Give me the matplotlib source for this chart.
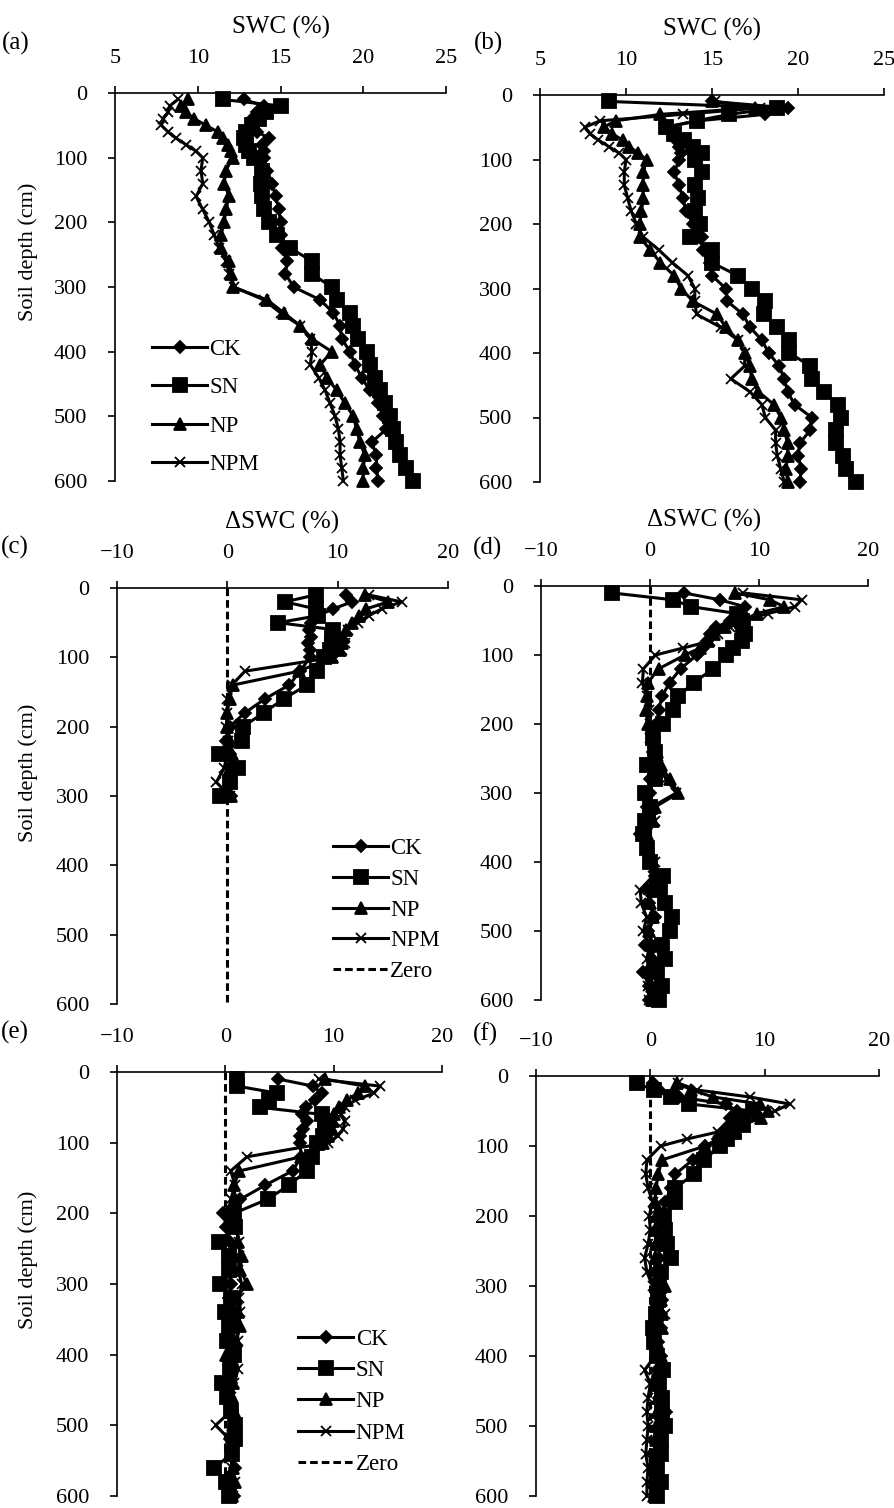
import matplotlib
matplotlib.use("Agg")
import matplotlib.pyplot as plt

plt.rcParams['font.family'] = ['Liberation Serif', 'DejaVu Serif']
plt.rcParams['font.size'] = 16

# soil depths (cm)
depth = [10, 20, 30, 40, 50, 60, 70, 80, 90, 100,
         120, 140, 160, 180, 200, 220, 240, 260, 280, 300,
         320, 340, 360, 380, 400, 420, 440, 460, 480, 500,
         520, 540, 560, 580, 600]
depth_c = depth[:20]

# (a) SWC
a_ck = [12.8, 14.0, 13.6, 13.3, 13.4, 13.6, 14.3, 13.9, 14.0, 14.0,
        14.2, 14.5, 14.7, 14.9, 15.0, 15.0, 15.1, 15.4, 15.3, 15.8,
        17.4, 18.2, 18.6, 18.7, 19.2, 19.5, 19.9, 20.4, 20.9, 21.2,
        21.4, 20.5, 20.8, 20.8, 20.9]
a_sn = [11.5, 15.0, 14.1, 13.7, 13.3, 12.9, 12.8, 12.9, 13.1, 13.4,
        13.9, 13.8, 13.9, 14.0, 14.3, 14.8, 15.6, 16.9, 16.9, 18.1,
        18.4, 19.2, 19.4, 19.7, 20.2, 20.4, 20.7, 21.0, 21.3, 21.6,
        21.8, 22.0, 22.2, 22.6, 23.0]
a_np = [9.4, 9.0, 9.3, 9.8, 10.5, 11.2, 11.5, 11.8, 12.0, 12.1,
        11.7, 11.6, 11.9, 11.7, 11.6, 11.4, 11.4, 11.9, 12.0, 12.1,
        14.2, 15.2, 16.2, 16.9, 18.1, 17.4, 17.8, 18.4, 18.9, 19.4,
        19.6, 19.8, 20.1, 20.0, 20.0]
a_npm = [8.8, 8.3, 8.2, 7.9, 7.8, 8.2, 8.7, 9.3, 9.9, 10.3,
         10.2, 10.3, 9.9, 10.3, 10.7, 11.0, 11.3, 11.7, 11.9, 12.2,
         14.0, 15.0, 16.2, 16.8, 16.9, 16.8, 17.3, 17.7, 18.0, 18.3,
         18.5, 18.6, 18.6, 18.7, 18.8]

# (b) SWC
b_ck = [15.0, 19.4, 18.1, 14.2, 12.3, 12.7, 12.9, 13.1, 13.2, 13.1,
        12.8, 13.1, 13.3, 13.5, 13.9, 14.4, 14.5, 14.9, 15.0, 15.8,
        15.9, 16.8, 17.2, 17.9, 18.3, 18.9, 19.2, 19.4, 19.8, 20.8,
        20.7, 20.1, 20.0, 20.2, 20.1]
b_sn = [9.0, 18.8, 16.0, 14.1, 12.3, 12.8, 13.4, 13.9, 14.4, 14.0,
        14.4, 14.0, 14.2, 14.0, 14.3, 13.7, 15.0, 15.0, 16.5, 17.3,
        18.1, 18.0, 18.8, 19.5, 19.5, 20.7, 20.8, 21.5, 22.3, 22.5,
        22.2, 22.2, 22.6, 22.8, 23.4]
b_np = [15.0, 17.5, 12.0, 9.4, 8.7, 9.2, 9.8, 10.2, 10.7, 11.2,
        11.0, 11.0, 11.0, 10.9, 10.8, 10.8, 11.4, 12.0, 12.8, 13.2,
        13.9, 15.3, 15.8, 16.5, 16.9, 17.2, 17.3, 17.7, 18.6, 19.0,
        19.2, 19.4, 19.4, 19.3, 19.4]
b_npm = [15.2, 17.8, 13.3, 8.5, 7.6, 7.9, 8.4, 9.0, 9.6, 10.0,
         9.9, 9.9, 10.1, 10.3, 10.6, 11.0, 11.9, 12.7, 13.6, 14.0,
         14.0, 14.1, 15.5, 16.5, 16.9, 16.9, 16.1, 17.2, 17.9, 18.1,
         18.7, 18.7, 18.8, 19.0, 19.2]

# (c) delta SWC, 10-300 cm
c_ck = [10.8, 11.3, 9.6, 8.2, 7.6, 7.4, 7.6, 7.3, 7.5, 7.5,
        6.6, 5.6, 3.4, 1.6, 0.2, -0.1, 0.2, 0.4, 0.3, 0.3]
c_sn = [8.0, 5.2, 8.0, 8.2, 4.6, 9.6, 9.5, 9.5, 9.3, 8.8,
        8.1, 7.2, 5.1, 3.3, 1.4, 1.3, -0.8, 1.0, 0.2, -0.7]
c_np = [12.5, 14.6, 12.6, 11.9, 11.3, 10.8, 10.5, 10.4, 10.2, 9.5,
        6.5, 0.5, 0.2, 0.0, 0.0, 0.2, 0.4, 0.2, 0.3, 0.3]
c_npm = [12.8, 15.8, 14.0, 12.8, 11.8, 10.9, 10.7, 10.7, 10.4, 9.6,
         1.6, 0.4, 0.0, 0.0, -0.1, 0.1, 0.0, -0.3, -1.0, 0.2]

# (d) delta SWC
d_ck = [3.1, 6.4, 8.7, 8.4, 7.3, 6.1, 5.5, 5.2, 4.9, 4.3,
        2.8, 1.8, 1.1, 0.8, 0.6, 0.4, 0.3, 0.2, 0.0, 0.0,
        -0.3, -0.4, -0.9, -0.3, 0.0, 0.5, -0.2, -0.1, 0.5, -0.2,
        -0.5, 0.2, -0.6, -0.1, -0.1]
d_sn = [-3.5, 2.1, 3.8, 8.0, 8.4, 8.5, 8.7, 8.4, 7.6, 7.0,
        5.8, 4.0, 2.6, 2.1, 1.2, 0.3, 0.5, -0.3, 0.5, -0.45,
        0.0, -0.45, -0.6, -0.3, 0.0, 1.2, 0.9, 1.4, 2.0, 1.8,
        1.1, 1.4, 0.6, 1.1, 0.8]
d_np = [7.8, 11.0, 12.3, 9.8, 8.5, 6.9, 5.9, 5.3, 4.6, 3.2,
        0.8, -0.2, -0.3, -0.4, -0.2, 0.2, 0.6, 1.0, 1.8, 2.6,
        0.5, 0.3, -0.3, -0.2, 0.2, 0.6, 0.2, 0.0, 0.3, -0.1,
        0.2, 0.3, 0.0, 0.2, 0.2]
d_npm = [8.5, 13.9, 13.3, 10.8, 8.6, 7.3, 6.2, 5.5, 3.0, 0.5,
         -0.6, -0.7, -0.3, -0.1, 0.0, 0.0, 0.4, 0.7, 1.5, 2.4,
         0.2, 0.5, -0.3, -0.1, 0.5, 0.3, -0.9, -0.8, -0.3, -0.6,
         0.0, -0.3, 0.0, -0.2, -0.1]

# (e) delta SWC
e_ck = [4.9, 8.1, 8.9, 8.3, 7.4, 7.1, 7.5, 7.2, 6.9, 6.9,
        7.0, 6.2, 3.7, 1.4, -0.2, 0.1, 0.4, 0.5, 0.3, 0.5,
        0.3, 0.8, 0.5, 0.3, 0.6, 0.4, 0.5, 0.3, 0.6, 0.8,
        0.4, 0.6, 0.9, 0.5, 0.8]
e_sn = [1.1, 1.1, 4.8, 4.0, 3.2, 8.9, 9.2, 9.2, 9.0, 8.5,
        8.0, 7.5, 5.9, 3.9, 0.8, 0.9, -0.6, 0.3, 0.3, -0.5,
        0.5, 0.0, 0.3, 0.2, 0.8, 0.4, -0.3, 0.2, 0.5, 0.9,
        0.9, 0.6, -1.0, 0.1, 0.3]
e_np = [9.2, 12.9, 12.2, 11.2, 10.5, 10.0, 9.9, 9.8, 9.5, 9.0,
        7.0, 1.3, 0.8, 0.9, 0.7, 1.0, 1.2, 1.5, 1.4, 2.0,
        1.0, 1.2, 1.4, 1.0, 0.1, 0.5, 0.7, 0.6, 0.8, 0.7,
        0.8, 0.6, 0.7, 0.9, 0.6]
e_npm = [8.6, 14.3, 13.7, 12.0, 11.0, 10.7, 11.0, 10.9, 10.4, 9.5,
         2.0, 0.5, 0.9, 0.5, 0.3, 1.0, 1.3, 1.3, 1.2, 1.5,
         1.3, 1.4, 1.0, 1.2, 0.8, 1.2, 0.8, 0.5, 0.5, -0.9,
         0.4, 0.5, 0.6, 0.9, 0.7]

# (f) delta SWC
f_ck = [0.2, 0.8, 2.5, 6.6, 7.6, 7.0, 6.9, 6.3, 5.9, 4.8,
        3.7, 2.2, 1.8, 1.3, 0.9, 0.8, 0.7, 0.8, 0.4, 0.8,
        1.0, 0.9, 0.9, 0.7, 0.9, 0.6, 0.7, 0.8, 1.4, 0.8,
        0.5, 0.3, 0.4, 0.3, 0.5]
f_sn = [-1.2, 0.3, 1.8, 3.4, 9.0, 7.9, 8.1, 7.3, 6.7, 6.1,
        4.7, 3.8, 2.2, 2.2, 1.2, 1.3, 1.45, 1.8, 0.9, 0.8,
        0.7, 0.5, 0.2, 0.3, 0.6, 1.1, 0.8, 1.0, 1.0, 1.3,
        0.9, 0.9, 0.6, 0.9, 0.6]
f_np = [2.3, 3.6, 5.5, 9.6, 10.3, 9.7, 8.0, 7.4, 6.5, 4.8,
        1.0, 0.7, 0.5, 0.4, 0.5, 0.4, 0.5, 0.4, 0.8, 1.3,
        0.9, 1.0, 1.0, 0.6, 0.9, 0.7, 0.6, 0.7, 0.6, 0.5,
        0.5, 0.4, 0.4, 0.3, 0.3]
f_npm = [2.4, 4.1, 8.7, 12.2, 10.9, 9.7, 7.4, 5.9, 3.2, 0.9,
         -0.3, -0.4, -0.2, 0.2, -0.1, 0.0, -0.2, -0.5, -0.3, 0.2,
         0.5, 1.3, 0.7, 0.2, 0.4, -0.5, 0.0, -0.2, -0.3, -0.2,
         -0.3, -0.4, -0.2, -0.3, -0.3]

names = ["CK", "SN", "NP", "NPM"]
markers = {"CK": ("D", 6), "SN": ("s", 10), "NP": ("^", 8), "NPM": ("x", 7.5)}

W, H = 894, 1508
fig = plt.figure(figsize=(W / 100, H / 100), dpi=100)


def make_ax(left, right, top, bottom):
    return fig.add_axes([left / W, 1 - bottom / H, (right - left) / W, (bottom - top) / H])


def style(ax, xlim, xticks, xlabel=None, ylabel_y=None):
    ax.set_xlim(*xlim)
    ax.set_ylim(600, 0)
    ax.set_xticks(xticks)
    ax.set_yticks([0, 100, 200, 300, 400, 500, 600])
    ax.xaxis.tick_top()
    ax.xaxis.set_label_position('top')
    ax.spines['right'].set_visible(False)
    ax.spines['bottom'].set_visible(False)
    ax.spines['top'].set_linewidth(1.2)
    ax.spines['left'].set_linewidth(1.2)
    ax.tick_params(direction='out', length=5, width=1.2, labelsize=16)
    ax.tick_params(axis='x', pad=13)
    ax.tick_params(axis='y', pad=15)
    if xlabel:
        ax.set_xlabel(xlabel, fontsize=18, labelpad=11)
    if ylabel_y is not None:
        ax.set_ylabel("Soil depth (cm)", fontsize=16)
        left = ax.get_position().x0 * W
        ax.yaxis.set_label_coords((38 - left) / (ax.get_position().width * W), ylabel_y)


def draw(ax, series, dep, zero=False):
    for name, vals in zip(names, series):
        m, ms = markers[name]
        ax.plot(vals, dep, color='black', lw=2.2, marker=m, ms=ms,
                mew=1.3, label=name, clip_on=False)
    if zero:
        ax.plot([0, 0], [0, 600], color='black', lw=2.2, ls=(0, (2.5, 1.3)),
                label="Zero")


def legend(ax, x, y, spacing):
    ax.legend(loc='upper left', bbox_to_anchor=(x, y), frameon=False,
              handlelength=2.4, handletextpad=0.1, labelspacing=spacing,
              fontsize=16.5, borderaxespad=0)


# (a)
ax = make_ax(115, 446, 93, 481)
draw(ax, [a_ck, a_sn, a_np, a_npm], depth)
style(ax, (5, 25), [5, 10, 15, 20, 25], "SWC (%)", ylabel_y=0.59)
legend(ax, 0.085, 0.39, 0.76)

# (b)
ax = make_ax(540, 884, 95, 482)
draw(ax, [b_ck, b_sn, b_np, b_npm], depth)
style(ax, (5, 25), [5, 10, 15, 20, 25], "SWC (%)")

# (c)
ax = make_ax(117, 448, 588, 1004)
draw(ax, [c_ck, c_sn, c_np, c_npm], depth_c, zero=True)
style(ax, (-10, 20), [-10, 0, 10, 20], "ΔSWC (%)", ylabel_y=0.555)
legend(ax, 0.625, 0.42, 0.42)

# (d)
ax = make_ax(541, 868, 586, 1000)
draw(ax, [d_ck, d_sn, d_np, d_npm], depth, zero=True)
style(ax, (-10, 20), [-10, 0, 10, 20], "ΔSWC (%)")

# (e)
ax = make_ax(117, 442, 1072, 1496)
draw(ax, [e_ck, e_sn, e_np, e_npm], depth, zero=True)
style(ax, (-10, 20), [-10, 0, 10, 20], ylabel_y=0.557)
legend(ax, 0.53, 0.415, 0.44)

# (f)
ax = make_ax(536, 879, 1076, 1496)
draw(ax, [f_ck, f_sn, f_np, f_npm], depth, zero=True)
style(ax, (-10, 20), [-10, 0, 10, 20])

# panel letters
for lab, x, y in [("(a)", 2, 43), ("(b)", 474, 43), ("(c)", 1, 547),
                  ("(d)", 473, 548), ("(e)", 1, 1032), ("(f)", 473, 1034)]:
    fig.text(x / W, 1 - y / H, lab, fontsize=18, va='center', ha='left')

fig.savefig("out.png", dpi=100)
